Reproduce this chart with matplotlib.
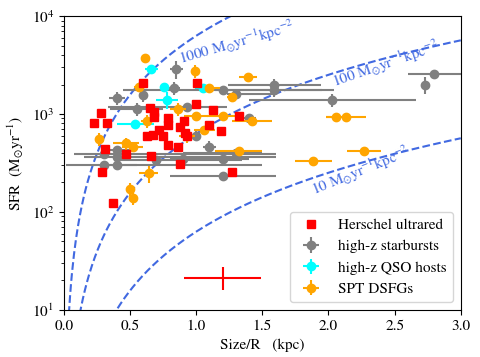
import numpy as np
import matplotlib.pyplot as plt

plt.rcParams['font.family'] = ['STIXGeneral', 'DejaVu Serif']
plt.rcParams['mathtext.fontset'] = 'stix'
plt.rcParams['font.size'] = 11

# Herschel ultrared (size, SFR)
hu_r = [0.60, 1.01, 0.28, 0.225, 0.325, 0.65, 0.68, 0.68, 1.00, 1.13, 1.32, 0.79,
        0.79, 0.91, 0.88, 1.10, 1.19, 0.72, 0.63, 0.675, 0.75, 0.915, 0.93, 0.79,
        0.86, 0.31, 0.47, 0.66, 0.88, 0.29, 1.27, 0.37]
hu_sfr = [2060, 2060, 1030, 815, 815, 1140, 1050, 940, 1260, 1100, 960, 900,
          770, 855, 740, 770, 670, 690, 590, 610, 590, 635, 590, 480,
          457, 437, 390, 375, 307, 258, 254, 124]

# high-z starbursts
sb_r = [0.85, 0.83, 1.20, 1.30, 0.40, 0.60, 0.55, 0.93, 1.40, 1.00, 1.59, 1.59,
        2.03, 2.80, 2.73, 0.30, 0.40, 0.40, 0.30, 0.40, 0.70, 0.90, 1.20, 1.30,
        1.10, 1.20]
sb_sfr = [2880, 1850, 1760, 1590, 1470, 1560, 1120, 1180, 910, 600, 1980, 1760,
          1390, 2560, 1980, 391, 430, 360, 302, 302, 340, 345, 345, 397,
          464, 234]
sb_rlo = [0.05, 0.05, 0.75, 0.07, 0.06, 0.03, 0.2, 0.6, 0.05, 0.03, 0.35, 0.45,
          0.63, 0.2, 0.03, 0.22, 0.1, 0.25, 0.28, 0.1, 0.3, 0.1, 0.3, 0.4,
          0.05, 0.4]
sb_rhi = [0.05, 0.05, 0.75, 0.3, 0.06, 0.03, 0.2, 0.3, 0.05, 0.03, 0.35, 0.45,
          0.63, 0.2, 0.03, 1.3, 0.1, 1.2, 1.2, 0.15, 0.65, 0.1, 0.2, 0.2,
          0.05, 0.4]
sb_ferr = [0.2, 0.15, 0.05, 0.05, 0.15, 0.15, 0.15, 0.05, 0.05, 0.12, 0.15, 0.15,
           0.15, 0.05, 0.2, 0.05, 0.05, 0.05, 0.05, 0.05, 0.05, 0.05, 0.05, 0.05,
           0.15, 0.05]

# high-z QSO hosts
qso_r = [0.66, 0.76, 0.78, 1.05, 0.54]
qso_sfr = [2860, 1870, 1390, 1830, 790]
qso_rerr = [0.05, 0.03, 0.08, 0.06, 0.14]
qso_ferr = [0.05, 0.05, 0.2, 0.05, 0.05]

# SPT DSFGs
spt_r = [0.61, 0.99, 1.39, 0.57, 1.10, 1.27, 0.86, 1.00, 1.20, 1.42, 0.63, 1.06,
         0.93, 0.265, 0.47, 0.52, 1.32, 0.64, 0.50, 0.52, 2.06, 2.13, 2.27, 1.885]
spt_sfr = [3700, 2770, 2370, 1870, 1855, 1500, 1120, 960, 960, 855, 855, 680,
           590, 556, 500, 464, 419, 248, 171, 138, 937, 937, 419, 334]
spt_rerr = [0.03, 0.03, 0.07, 0.04, 0.08, 0.04, 0.06, 0.09, 0.12, 0.15, 0.05, 0.08,
            0.06, 0.03, 0.1, 0.08, 0.18, 0.07, 0.03, 0.03, 0.08, 0.15, 0.13, 0.14]
spt_ferr = [0.05, 0.15, 0.1, 0.1, 0.1, 0.1, 0.15, 0.1, 0.05, 0.1, 0.15, 0.1,
            0.15, 0.15, 0.15, 0.1, 0.05, 0.2, 0.15, 0.15, 0.1, 0.1, 0.05, 0.05]

# typical uncertainty
typ_r, typ_sfr = 1.2, 21
typ_rerr, typ_sfr_lo, typ_sfr_hi = 0.29, 5, 6.5

sigmas = [1000, 100, 10]

fig, ax = plt.subplots(figsize=(4.8, 3.57), dpi=100)
fig.subplots_adjust(left=0.133, right=0.960, top=0.955, bottom=0.132)

r = np.linspace(0.001, 3.0, 400)
for s in sigmas:
    ax.plot(r, 2 * np.pi * r**2 * s, ls='--', color='royalblue', lw=1.5, zorder=1)

lab = r' M$_{\odot}$yr$^{-1}$kpc$^{-2}$'
ax.text(1.31, 5400, '1000' + lab, color='royalblue', rotation=16,
        ha='center', va='center', fontsize=11)
ax.text(2.43, 3250, '100' + lab, color='royalblue', rotation=19,
        ha='center', va='center', fontsize=11)
ax.text(2.24, 262, '10' + lab, color='royalblue', rotation=22,
        ha='center', va='center', fontsize=11)

hu_sfr = np.array(hu_sfr)
sb_sfr = np.array(sb_sfr)
qso_sfr = np.array(qso_sfr)
spt_sfr = np.array(spt_sfr)

ax.errorbar(sb_r, sb_sfr, xerr=[sb_rlo, sb_rhi], yerr=sb_sfr * np.array(sb_ferr),
            fmt='o', color='gray', ms=6, elinewidth=1.5, capsize=0,
            label='high-z starbursts', zorder=2)
ax.errorbar(qso_r, qso_sfr, xerr=qso_rerr, yerr=qso_sfr * np.array(qso_ferr),
            fmt='o', color='cyan', ms=6, elinewidth=1.5, capsize=0,
            label='high-z QSO hosts', zorder=3)
ax.errorbar(spt_r, spt_sfr, xerr=spt_rerr, yerr=spt_sfr * np.array(spt_ferr),
            fmt='o', color='orange', ms=6, elinewidth=1.5, capsize=0,
            label='SPT DSFGs', zorder=3)
ax.plot(hu_r, hu_sfr, 's', color='red', ms=6.3, ls='none',
        label='Herschel ultrared', zorder=4)

ax.errorbar([typ_r], [typ_sfr], xerr=typ_rerr, yerr=[[typ_sfr_lo], [typ_sfr_hi]],
            fmt='none', ecolor='red', elinewidth=1.5, capsize=0)

ax.set_yscale('log')
ax.set_xlim(0, 3)
ax.set_ylim(10, 1e4)
ax.set_xlabel('Size/R   (kpc)')
ax.set_ylabel(r'SFR  (M$_{\odot}$yr$^{-1}$)')

h, l = ax.get_legend_handles_labels()
order = [l.index(n) for n in ['Herschel ultrared', 'high-z starbursts',
                              'high-z QSO hosts', 'SPT DSFGs']]
ax.legend([h[i] for i in order], [l[i] for i in order], loc='lower right',
          fontsize=11)

plt.savefig('out.png')
